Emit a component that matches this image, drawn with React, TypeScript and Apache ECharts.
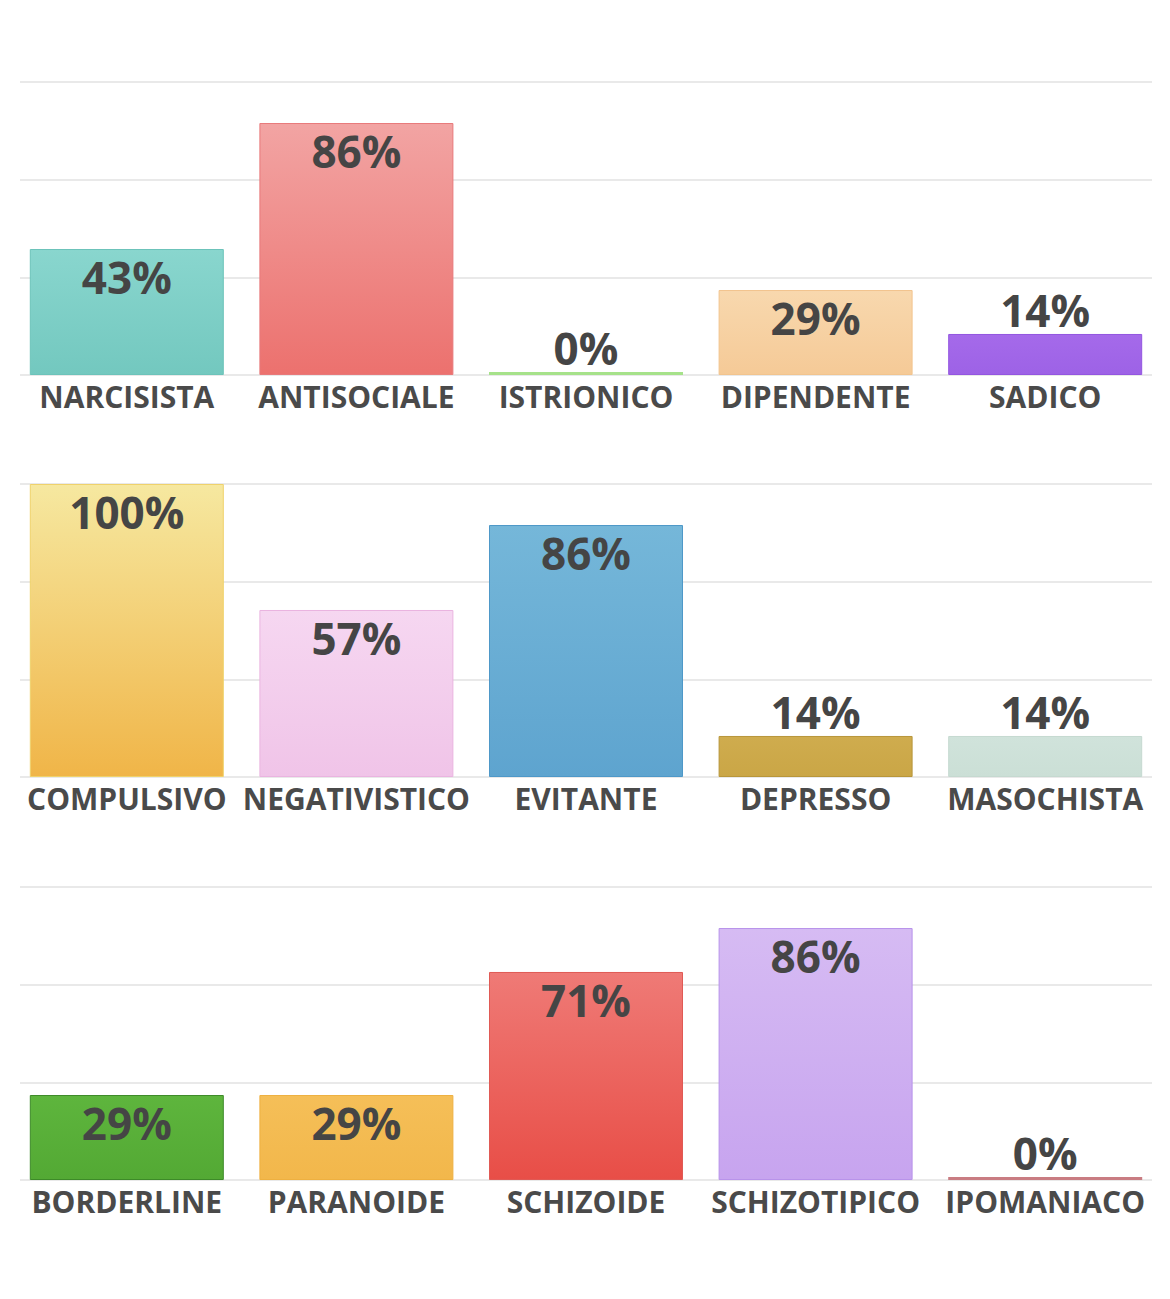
import React, { useEffect, useRef } from "react";
import * as echarts from "echarts";

const categories1 = ["NARCISISTA", "ANTISOCIALE", "ISTRIONICO", "DIPENDENTE", "SADICO"];
const values1 = [43, 86, 0, 29, 14];
const categories2 = ["COMPULSIVO", "NEGATIVISTICO", "EVITANTE", "DEPRESSO", "MASOCHISTA"];
const values2 = [100, 57, 86, 14, 14];
const categories3 = ["BORDERLINE", "PARANOIDE", "SCHIZOIDE", "SCHIZOTIPICO", "IPOMANIACO"];
const values3 = [29, 29, 71, 86, 0];

// [top colour, bottom colour, border colour]
const colors1 = [
  ["#89d6ce", "#73c8bf", "#6cc3ba"],
  ["#f2a4a3", "#ec716e", "#e8797a"],
  ["#a6e28a", "#a6e28a", "#a6e28a"],
  ["#f8d8ae", "#f5ca97", "#f2c48e"],
  ["#a56aea", "#9d62e6", "#9356e0"],
];
const colors2 = [
  ["#f6e8a0", "#f0b548", "#efd26c"],
  ["#f6d7f1", "#f0c4e8", "#eab4e0"],
  ["#75b7d9", "#5ea4cf", "#4e98c8"],
  ["#cfac4e", "#caa646", "#b8963a"],
  ["#d0e3db", "#cbdfd6", "#c5d9d0"],
];
const colors3 = [
  ["#5eb53d", "#53a934", "#3d8a28"],
  ["#f5bf58", "#f2b74b", "#eeb040"],
  ["#ef7a76", "#e84e47", "#e05a55"],
  ["#d6bbf3", "#c7a4ef", "#b893ea"],
  ["#c97c82", "#c97c82", "#c97c82"],
];

const panelTops = [82, 484, 887];
const panelHeight = 293;

export default function App() {
  const ref = useRef<HTMLDivElement>(null);
  useEffect(() => {
    if (!ref.current) return;
    const chart = echarts.init(ref.current, null, { renderer: "svg" });
    const panels = [
      { cats: categories1, vals: values1, cols: colors1 },
      { cats: categories2, vals: values2, cols: colors2 },
      { cats: categories3, vals: values3, cols: colors3 },
    ];
    const grid: any[] = [];
    const xAxis: any[] = [];
    const yAxis: any[] = [];
    const series: any[] = [];
    panels.forEach((p, i) => {
      const top = panelTops[i];
      // gridline grid
      grid.push({ left: 20, right: 18, top, height: panelHeight });
      xAxis.push({ type: "value", gridIndex: 2 * i, min: 0, max: 1, show: false });
      yAxis.push({
        type: "value",
        gridIndex: 2 * i,
        min: 0,
        max: 3,
        interval: 1,
        axisLine: { show: false },
        axisTick: { show: false },
        axisLabel: { show: false },
        splitLine: { show: true, lineStyle: { color: "#e9e9e9", width: 2 } },
      });
      // bar grid
      grid.push({ left: 12, right: 10, top, height: panelHeight });
      xAxis.push({
        type: "category",
        gridIndex: 2 * i + 1,
        data: p.cats,
        axisLine: { show: false },
        axisTick: { show: false },
        axisLabel: {
          interval: 0,
          margin: 6,
          color: "#4a4a4a",
          fontFamily: "Open Sans",
          fontWeight: "bold",
          fontSize: 30,
        },
      });
      yAxis.push({
        type: "value",
        gridIndex: 2 * i + 1,
        min: 0,
        max: 100,
        show: false,
        splitLine: { show: false },
      });
      series.push({
        type: "bar",
        xAxisIndex: 2 * i + 1,
        yAxisIndex: 2 * i + 1,
        barWidth: 194,
        barMinHeight: 3,
        z: 3,
        data: p.vals.map((v, j) => {
          const c = p.cols[j];
          const inside = v >= 20;
          return {
            value: v,
            itemStyle: {
              color: {
                type: "linear",
                x: 0,
                y: 0,
                x2: 0,
                y2: 1,
                colorStops: [
                  { offset: 0, color: c[0] },
                  { offset: 1, color: c[1] },
                ],
              },
              borderColor: c[2],
              borderWidth: v > 0 ? 1 : 0,
            },
            label: {
              show: true,
              position: inside ? "insideTop" : "top",
              distance: inside ? 6 : 2,
              formatter: "{c}%",
              color: "#454545",
              fontFamily: "Open Sans",
              fontWeight: "bold",
              fontSize: 44,
            },
          };
        }),
      });
    });
    chart.setOption({
      animation: false,
      backgroundColor: "#ffffff",
      grid,
      xAxis,
      yAxis,
      series,
    });
    return () => chart.dispose();
  }, []);
  return (
    <div
      ref={ref}
      style={{ position: "absolute", left: 0, top: 0, width: 1170, height: 1299 }}
    />
  );
}
